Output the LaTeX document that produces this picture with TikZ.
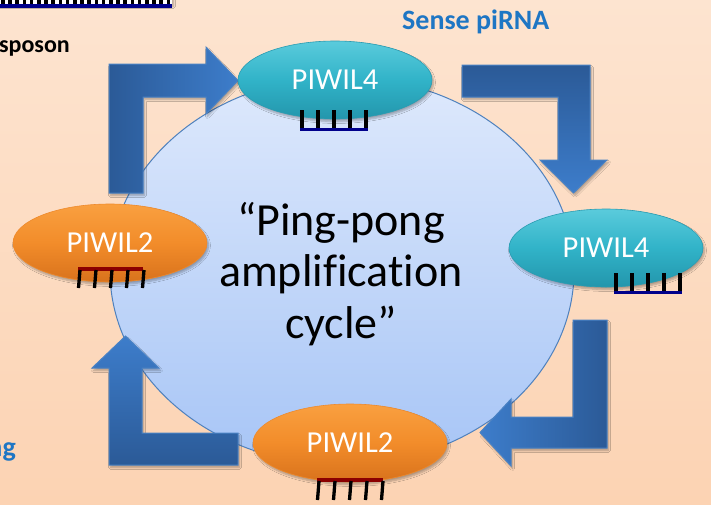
\documentclass[tikz,border=0pt]{standalone}
\usepackage{fontspec}
\setmainfont{Carlito}[Ligatures=NoCommon]
\usetikzlibrary{shapes.geometric,shadows.blur}
\definecolor{bgtop}{HTML}{FDE4D0}
\definecolor{bgbot}{HTML}{FCD3B3}
\definecolor{circtop}{HTML}{DEE9FC}
\definecolor{circbot}{HTML}{A7C5F6}
\definecolor{circline}{HTML}{4F81BD}
\definecolor{arrdark}{HTML}{2B5A97}
\definecolor{arrlight}{HTML}{3D7DCB}
\definecolor{arrline}{HTML}{4A82C4}
\definecolor{tealtop}{HTML}{5ACBDC}
\definecolor{tealmid}{HTML}{31B3C8}
\definecolor{tealbot}{HTML}{2396AC}
\definecolor{tealline}{HTML}{2A9CB2}
\definecolor{orgtop}{HTML}{F9A040}
\definecolor{orgmid}{HTML}{F28C2A}
\definecolor{orgbot}{HTML}{D8721C}
\definecolor{orgline}{HTML}{EE8A2C}
\definecolor{navybar}{HTML}{00008B}
\definecolor{redbar}{HTML}{8B0000}
\definecolor{labelblue}{HTML}{1E76C4}
\tikzset{
  soft/.style={blur shadow={shadow xshift=1.5pt,shadow yshift=-2.5pt,shadow blur steps=6,shadow opacity=30}},
  bluearrow/.style={draw=arrline,line width=1pt,soft},
  protein/.style={ellipse,minimum width=194pt,minimum height=78pt,inner sep=0pt,
    text=white,font=\fontsize{30.5}{32}\selectfont,line width=0.6pt,soft},
  piwilfour/.style={protein,top color=tealtop,bottom color=tealbot,middle color=tealmid,draw=tealline},
  piwiltwo/.style={protein,top color=orgtop,bottom color=orgbot,middle color=orgmid,draw=orgline},
  tick/.style={line width=3.3pt,black},
  navystrip/.style={line width=3.6pt,navybar},
  redstrip/.style={line width=3.6pt,redbar},
  bluelabel/.style={font=\bfseries\fontsize{28}{30}\selectfont,text=labelblue,inner sep=0pt},
}
\begin{document}
\begin{tikzpicture}[x=1pt,y=-1pt]
\useasboundingbox (0,0) rectangle (711,504);
\clip (0,0) rectangle (711,504);
\shade[top color=bgtop,bottom color=bgbot] (0,0) rectangle (711,504);

% cut-off strip at the top left
\fill[white,soft] (-5,-5) rectangle (172,4);
\foreach \i in {0,...,23} {\fill[black] (1+7.2*\i,-5) rectangle (4.5+7.2*\i,4.5);}
\fill[navybar] (-5,4) rectangle (172,7.5);

% labels at the edges
\node[anchor=base east,inner sep=0pt,font=\bfseries\fontsize{24}{26}\selectfont] (transposon) at (70,52) {sposon};
\node[bluelabel,anchor=base west] (sense) at (402,29) {Sense piRNA};
\node[bluelabel,anchor=base east] (slicing) at (16,456) {ng};

% the cycle
\node[ellipse,minimum width=464pt,minimum height=388pt,top color=circtop,bottom color=circbot,
  draw=circline,line width=1pt] (cycle) at (342,271) {};
\node[align=center,anchor=base,inner sep=0pt,font=\fontsize{46}{51.5}\selectfont] (title) at (341,338)
  {“Ping-pong\\amplification\\cycle”};

% bent arrows
\shade[bluearrow,left color=arrdark,right color=arrlight]
  (109,193) -- (109,64) -- (206,64) -- (206,47) -- (238,80.5) -- (206,114) -- (206,97)
  -- (143,97) -- (143,193) -- cycle;
\shade[bluearrow,top color=arrdark,bottom color=arrlight]
  (462,65) -- (590,65) -- (590,160) -- (607,160) -- (573.5,193) -- (540,160) -- (558,160)
  -- (558,97) -- (462,97) -- cycle;
\shade[bluearrow,right color=arrdark,left color=arrlight]
  (607,320) -- (607,448) -- (511,448) -- (511,466) -- (480,432.5) -- (511,399) -- (511,417)
  -- (573,417) -- (573,320) -- cycle;
\shade[bluearrow,bottom color=arrdark,top color=arrlight]
  (238,465) -- (109,465) -- (109,368) -- (92,368) -- (125.5,336) -- (159,368) -- (142,368)
  -- (142,433) -- (238,433) -- cycle;

% proteins
\node[piwilfour] (p4top) at (335,80) {PIWIL4};
\node[piwilfour] (p4right) at (606,248) {PIWIL4};
\node[piwiltwo] (p2left) at (110,243) {PIWIL2};
\node[piwiltwo] (p2bottom) at (350,443) {PIWIL2};

% piRNA combs
\foreach \x in {0,16,32,48,64} {\draw[tick] (302+\x,110) -- (302+\x,128);}
\draw[navystrip] (300.4,129.5) -- (367.6,129.5);
\foreach \x in {0,16,32,48,64} {\draw[tick] (616+\x,273) -- (616+\x,291);}
\draw[navystrip] (614.4,292.5) -- (681.6,292.5);
\draw[redstrip] (78,269) -- (143,269);
\foreach \x in {0,16,32,48,64} {\draw[tick] (80+\x,270) -- (78.5+\x,288);}
\draw[redstrip] (317,480) -- (383,480);
\foreach \x in {0,16,32,48,64} {\draw[tick] (319+\x,481) -- (317.5+\x,500);}
\end{tikzpicture}
\end{document}
